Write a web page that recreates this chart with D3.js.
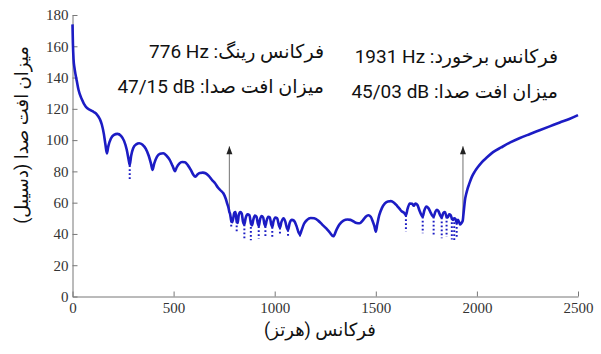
<!DOCTYPE html>
<html>
<head>
  <meta charset="UTF-8">
  <style>
      body{ margin:0; background:#fff; }
      svg{ display:block; }
      .tick text{ font-family:"Liberation Serif", serif; font-size:15px; fill:#333; }
      .note{ font-family:Roboto, "DejaVu Sans", sans-serif; font-size:19px; fill:#111; }
  </style>
</head>
<body>
<svg></svg>
<script src="https://d3js.org/d3.v7.min.js"></script>
<script>

let width = 601, height = 354;

// transmission loss curve [frequency Hz, dB]
let curve = [
  [0,174],[2,162],[5,152],[10,146],[15,142],[21,138],[30,132],[45,126.5],[65,121.5],[87,119.3],[105,118],[120,116.5],
  [135,113.5],[145,110],[155,104],[163,97],[170,91.5],
  [177,96],[190,101],[205,103.3],[222,104],[240,102.7],[255,99.5],[268,94],[277,88],[283,84],
  [290,90],[300,94.8],[315,97.3],[330,98],[345,97.2],[362,94.5],[377,90],[388,85],[396,81],
  [404,85],[418,89.5],[433,91.3],[449,91.6],[465,90],[480,87.5],[495,83.5],[507,80.2],
  [515,82.5],[528,85],[542,86],[556,85.8],[570,84],[585,81],[597,78],[608,76.6],
  [618,78],[630,79],[645,79.2],[658,78.8],[675,77],[690,74.5],[705,72.4],[720,69.5],[735,67.5],[746,66],
  [758,62.5],[766,59],[771,57],[776,54],
  [779,53],[785,48.5],[790,47.5],[795,50],[800,53.5],[806,54],[812,48],[817,47],[822,52],[830,54],[837,53],
  [843,48],[850,46],[856,50],[866,52.5],[875,52],[882,47],[888,45.5],[894,49],[902,51.8],[910,51],
  [916,47],[921,45],[927,49],[935,51.5],[943,50.5],[949,46.5],[954,45],[960,48.5],[968,51],[976,50.5],
  [983,46],[988,44.5],[994,48],[1003,50.5],[1012,50],[1020,46],[1026,44],[1033,47.5],[1044,50],
  [1052,48],[1060,44],[1066,42.5],[1074,47],[1085,49],[1095,48.5],[1108,45],[1118,41],[1125,39.5],
  [1132,42],[1145,46.5],[1160,49],[1178,50.2],[1195,50],[1215,48.5],[1235,46],[1255,43.5],[1272,41],[1290,38.5],
  [1305,42.5],[1320,46],[1340,48.5],[1360,49.2],[1375,49],[1390,48],[1405,47],[1420,46.8],[1435,48.5],
  [1450,51],[1463,52],[1475,51],[1485,48],[1493,45],[1500,41.5],
  [1507,46],[1517,52],[1530,56.5],[1545,59.5],[1560,60.8],[1575,61],[1590,60],[1605,58],[1618,56],
  [1628,54.5],[1640,53.5],[1649,52],
  [1657,56],[1668,59.5],[1680,59.3],[1688,58],[1696,59.5],[1706,58.5],[1716,55],[1726,52],[1732,51],
  [1740,55],[1750,57.5],[1760,56.5],[1770,54],[1778,52],[1786,51],[1794,54],[1802,55.5],[1810,54.5],
  [1818,52],[1826,50.5],[1834,53.5],[1842,54],[1850,51],[1856,50.5],[1863,52.5],[1870,52],[1876,50],
  [1882,49],[1888,50],[1894,49.5],[1900,47],[1906,49],[1912,47.5],[1918,46],[1924,47],[1930,48.5],
  [1933,52],[1937,57],[1941,61.7],[1947,65.5],[1953,68.5],[1962,72],[1975,76.5],[1990,80],[2005,82.8],
  [2025,86],[2050,89],[2080,92.3],[2120,95.3],[2165,98.5],[2210,101.2],[2260,103.8],[2310,106.3],
  [2360,108.8],[2410,111.3],[2460,113.7],[2500,116]
];

// dotted drops under the curve [frequency, from dB, to dB]
let notches = [
  [283,84,74.5],
  [785,48.5,43.5],[812,48,41.5],[850,46,36.5],[882,47,36],[921,45,37],[954,45,37.5],
  [988,44.5,38],[1026,44,39],[1066,42.5,37.5],[1125,39.5,37.5],
  [1649,52,41.5],[1732,51,40.4],[1786,51,38.5],[1826,50.5,37.2],[1850,51,38],
  [1876,50,36.5],[1888,50,36],[1900,47,38]
];

// markers [frequency, bottom dB, top dB]
let arrows = [[776,53,96],[1931,49,96]];

let xTicks = [0,500,1000,1500,2000,2500];
let yTicks = [0,20,40,60,80,100,120,140,160,180];

let notes = [
  {right:324, y:58, label:"فرکانس رینگ: ", value:"776 Hz"},
  {right:324, y:93, label:"میزان افت صدا: ", value:"47/15 dB"},
  {right:558, y:63, label:"فرکانس برخورد: ", value:"1931 Hz"},
  {right:558, y:98, label:"میزان افت صدا: ", value:"45/03 dB"}
];

let svg = d3.select("svg")
    .attr("width", width)
    .attr("height", height);

let x = d3.scaleLinear().domain([0,2500]).range([72.5,578]);
let y = d3.scaleLinear().domain([0,180]).range([296.5,15]);

svg.append('defs')
  .append('marker')
  .attr('id', 'arrowhead')
  .attr('viewBox', '-5 -8 10 10')
  .attr('refX', 0)
  .attr('refY', -8)
  .attr('orient', '0')
  .attr('markerUnits', 'userSpaceOnUse')
  .attr('markerWidth', 10)
  .attr('markerHeight', 10)
  .append('path')
  .attr('d', 'M -3,0 L 0,-8 L 3,0 Z')
  .attr('fill', '#222');

// axes
let xAxis = svg.append("g")
    .attr("transform", "translate(0," + y(0) + ")")
    .call(d3.axisBottom(x).tickValues(xTicks).tickFormat(d3.format("d"))
        .tickSizeInner(-5).tickSizeOuter(0).tickPadding(6));

let yAxis = svg.append("g")
    .attr("transform", "translate(" + x(0) + ",0)")
    .call(d3.axisLeft(y).tickValues(yTicks).tickFormat(d3.format("d"))
        .tickSizeInner(-5).tickSizeOuter(0).tickPadding(4));

svg.selectAll(".domain").attr("stroke", "#777");
svg.selectAll(".tick line").attr("stroke", "#777");

// arrows
svg.append("g").selectAll("line")
  .data(arrows)
  .enter()
  .append("line")
    .attr("x1", d => x(d[0]))
    .attr("x2", d => x(d[0]))
    .attr("y1", d => y(d[1]))
    .attr("y2", d => y(d[2]))
    .attr("stroke", "#888")
    .attr("stroke-width", 1.2)
    .attr("marker-end", "url(#arrowhead)");

// notches
svg.append("g").selectAll("line")
  .data(notches)
  .enter()
  .append("line")
    .attr("x1", d => x(d[0]))
    .attr("x2", d => x(d[0]))
    .attr("y1", d => y(d[1]))
    .attr("y2", d => y(d[2]))
    .attr("stroke", "#1c1cc4")
    .attr("stroke-width", 2)
    .attr("stroke-dasharray", "1.8,2.2");

let line = d3.line()
    .x(d => x(d[0]))
    .y(d => y(d[1]))
    .curve(d3.curveMonotoneX);

svg.append("path")
    .datum(curve)
    .attr("fill", "none")
    .attr("stroke", "#1c1cc4")
    .attr("stroke-width", 2.6)
    .attr("stroke-linejoin", "round")
    .attr("d", line);

// annotations, value kept left-to-right inside the rtl line
let noteText = svg.append("g").selectAll("text")
  .data(notes)
  .enter()
  .append("text")
    .attr("class", "note")
    .attr("direction", "rtl")
    .attr("text-anchor", "start")
    .attr("x", d => d.right)
    .attr("y", d => d.y)
    .text(d => d.label + "\u2066" + d.value + "\u2069");

// axis titles
svg.append("text")
    .attr("direction", "rtl")
    .attr("text-anchor", "middle")
    .attr("x", 320)
    .attr("y", 336)
    .style("font-family", "Roboto, 'DejaVu Sans', sans-serif")
    .style("font-size", "18px")
    .attr("fill", "#111")
    .text("فرکانس (هرتز)");

svg.append("text")
    .attr("direction", "rtl")
    .attr("text-anchor", "middle")
    .attr("transform", "translate(28,135) rotate(-90)")
    .style("font-family", "Roboto, 'DejaVu Sans', sans-serif")
    .style("font-size", "18px")
    .attr("fill", "#111")
    .text("میزان افت صدا (دسیبل)");

</script>
</body>
</html>
